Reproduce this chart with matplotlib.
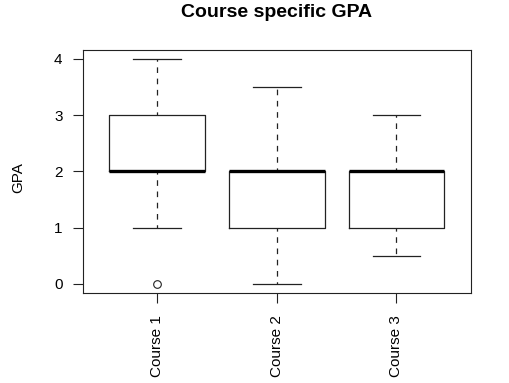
import matplotlib
matplotlib.use("Agg")
import matplotlib.pyplot as plt

plt.rcParams["font.family"] = ["Liberation Sans", "DejaVu Sans"]

# box statistics
courses = ["Course 1", "Course 2", "Course 3"]
q1 = [2, 1, 1]
med = [2, 2, 2]
q3 = [3, 2, 2]
whislo = [1, 0, 0.5]
whishi = [4, 3.5, 3]
fliers = [[0], [], []]
yticks = [0, 1, 2, 3, 4]

stats = []
for i, name in enumerate(courses):
    stats.append({"label": name, "q1": q1[i], "med": med[i], "q3": q3[i],
                  "whislo": whislo[i], "whishi": whishi[i], "fliers": fliers[i]})

fig = plt.figure(figsize=(5.1, 3.83), dpi=100)
ax = fig.add_axes([0.162, 0.2358, 0.761, 0.6337])

lc = "#222222"
ax.bxp(stats, positions=[1, 2, 3], widths=0.8,
       boxprops=dict(color=lc, linewidth=0.9),
       medianprops=dict(color="black", linewidth=2.4, solid_capstyle="butt"),
       whiskerprops=dict(color=lc, linewidth=0.9, linestyle=(2, (4.5, 4.5))),
       capprops=dict(color=lc, linewidth=0.9),
       flierprops=dict(marker="o", markersize=5.5, markerfacecolor="none",
                       markeredgecolor=lc, markeredgewidth=0.8),
       capwidths=0.4)

ax.set_xlim(0.38, 3.62)
ax.set_ylim(-0.16, 4.16)
ax.set_yticks(yticks)
ax.set_yticklabels([str(v) for v in yticks], fontsize=11)
ax.set_xticks([1, 2, 3])
ax.set_xticklabels(courses, rotation=90, fontsize=11)
ax.tick_params(axis="both", direction="out", length=7.5, width=0.8, color=lc)
ax.tick_params(axis="y", pad=7)
ax.tick_params(axis="x", pad=9)
for s in ax.spines.values():
    s.set_linewidth(0.8)
    s.set_color(lc)

ax.set_title("Course specific GPA", fontsize=14, fontweight="bold", pad=24)
fig.text(0.036, 0.5358, "GPA", rotation=90, ha="center", va="center", fontsize=11)

fig.savefig("out.png", dpi=100)
